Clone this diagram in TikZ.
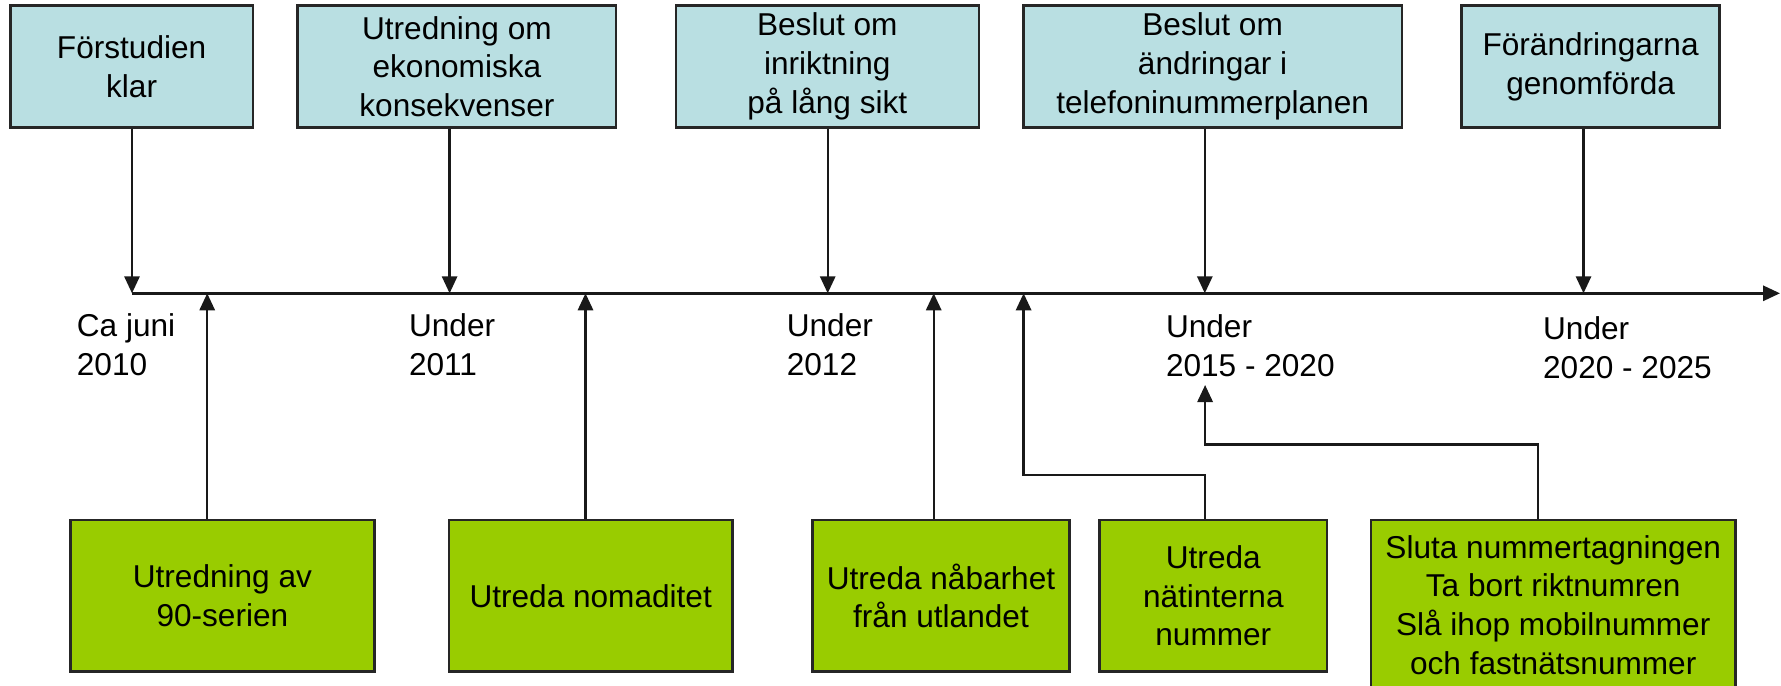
\documentclass[tikz,border=0pt]{standalone}
\usepackage{fontspec}
\setmainfont{Liberation Sans}
\usetikzlibrary{arrows.meta}
\definecolor{topfill}{RGB}{185,223,226}
\definecolor{botfill}{RGB}{153,204,0}
\begin{document}
\begin{tikzpicture}[x=0.5pt,y=-0.5pt,
  box/.style={draw=black!85, line width=1.3pt, inner sep=0pt, align=center, font=\fontsize{15.8}{19.35}\selectfont},
  topbox/.style={box, fill=topfill, minimum height=60.8pt},
  botbox/.style={box, fill=botfill, minimum height=75.85pt},
  lbl/.style={inner sep=0pt, anchor=north west, align=left, font=\fontsize{15.8}{19.5}\selectfont},
  conn/.style={line width=1.2pt, draw=black!90},
  arr/.style={conn, -{Triangle[length=8.5pt,width=7.6pt]}}]
\useasboundingbox (0,0) rectangle (1781,685);
\clip (0,0) rectangle (1781,685);

% top boxes
\node[topbox, minimum width=121.3pt] (T1) at (131.6,66.5) {Förstudien\\klar};
\node[topbox, minimum width=159.2pt] (T2) at (456.9,66.5) {Utredning om\\ekonomiska\\konsekvenser};
\node[topbox, minimum width=151.5pt] (T3) at (827.3,66.5) {Beslut om\\inriktning\\på lång sikt};
\node[topbox, minimum width=189.4pt] (T4) at (1212.6,66.5) {Beslut om\\ändringar i\\telefoninummerplanen};
\node[topbox, minimum width=129pt] (T5) at (1590.6,66.5) {Förändringarna\\genomförda};

% bottom boxes
\node[botbox, minimum width=151.8pt] (B1) at (222.4,595.9) {Utredning av\\90-serien};
\node[botbox, minimum width=141.75pt] (B2) at (590.7,595.9) {Utreda nomaditet};
\node[botbox, minimum width=128.75pt] (B3) at (941,595.9) {Utreda nåbarhet\\från utlandet};
\node[botbox, minimum width=113.75pt] (B4) at (1213.3,595.9) {Utreda\\nätinterna\\nummer};
\node[botbox, minimum width=182.3pt, minimum height=85pt] (B5) at (1553.2,605) {Sluta nummertagningen\\Ta bort riktnumren\\Slå ihop mobilnummer\\och fastnätsnummer};

% date labels
\node[lbl] (L1) at (76.5,313) {Ca juni\\2010};
\node[lbl] (L2) at (408.7,313) {Under\\2011};
\node[lbl] (L3) at (786.4,313) {Under\\2012};
\node[lbl] (L4) at (1165.6,314) {Under\\2015 - 2020};
\node[lbl] (L5) at (1542.7,316.5) {Under\\2020 - 2025};

% timeline points
\coordinate (t0) at (132,293.3);
\coordinate (tend) at (1780,293.3);
\coordinate (d1) at (132,293.3);
\coordinate (d2) at (449.6,293.3);
\coordinate (d3) at (827.7,293.3);
\coordinate (d4) at (1204.8,293.3);
\coordinate (d5) at (1583.5,293.3);
\coordinate (u1) at (207.2,293.3);
\coordinate (u2) at (585.5,293.3);
\coordinate (u3) at (933.7,293.3);
\coordinate (u4) at (1023.6,293.3);
\coordinate (e4) at (1205.1,475);
\coordinate (e5) at (1537.8,444.3);
\coordinate (tip5) at (1205.1,385);

\draw[arr] (t0) -- (tend);

\draw[arr] (T1.south -| d1) -- (d1);
\draw[arr] (T2.south -| d2) -- (d2);
\draw[arr] (T3.south -| d3) -- (d3);
\draw[arr] (T4.south -| d4) -- (d4);
\draw[arr] (T5.south -| d5) -- (d5);

\draw[arr] (B1.north -| u1) -- (u1);
\draw[arr] (B2.north -| u2) -- (u2);
\draw[arr] (B3.north -| u3) -- (u3);
\draw[arr] (B4.north -| e4) -- (e4) -| (u4);
\draw[arr] (B5.north -| e5) -- (e5) -| (tip5);
\end{tikzpicture}
\end{document}
